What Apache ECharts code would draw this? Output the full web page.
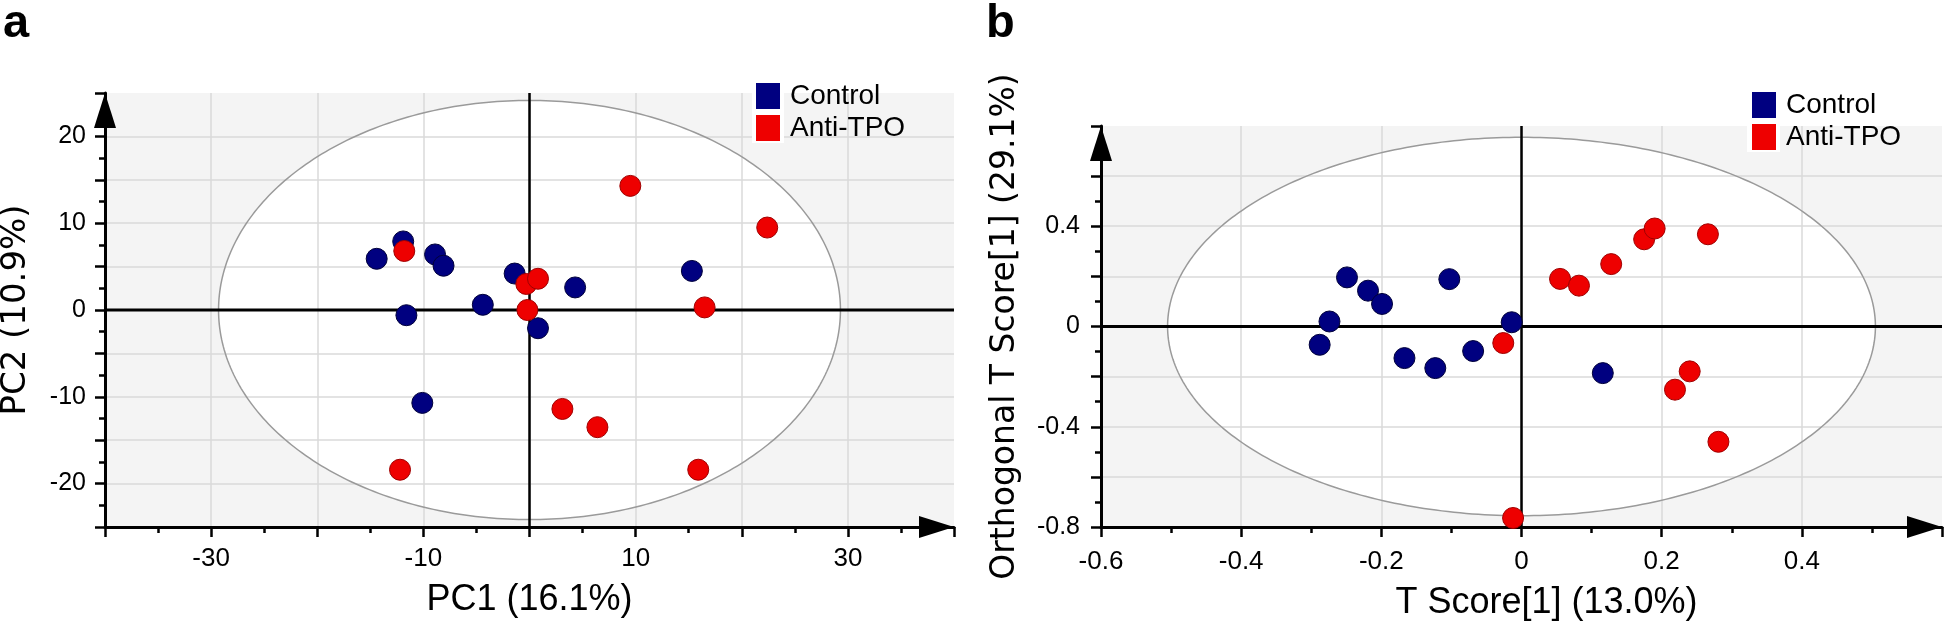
<!DOCTYPE html>
<html><head><meta charset="utf-8">
<script src="https://cdn.jsdelivr.net/npm/echarts@6/dist/echarts.min.js"></script>
<style>html,body{margin:0;padding:0;background:#fff}#c{width:1944px;height:626px}</style>
</head><body><div id="c"></div>
<script>
// ---- Panel a: PCA score plot ----
const groups = ['Control', 'Anti-TPO'];
const pcaControl = [[-14.4,5.9],[-11.9,7.9],[-8.9,6.4],[-8.1,5.1],[-11.6,-0.6],[-4.4,0.6],[-1.4,4.2],[4.3,2.6],[15.3,4.5],[0.8,-2.1],[-10.1,-10.7]];
const pcaAntiTPO = [[-11.8,6.8],[9.5,14.3],[22.4,9.5],[-0.3,3.0],[0.8,3.6],[16.5,0.3],[-0.2,0.0],[3.1,-11.4],[6.4,-13.5],[15.9,-18.4],[-12.2,-18.4]];
const pcaEllipse = [0, 0, 29.3, 24.15];          // centre x, centre y, semi-axis x, semi-axis y
const pcaXLabels = [-30, -10, 10, 30];
const pcaYLabels = [-20, -10, 0, 10, 20];
const pcaXRange = [-40, 40];
const pcaYRange = [-25, 25];

// ---- Panel b: OPLS-DA score plot ----
const oplsControl = [[-0.249,0.196],[-0.219,0.143],[-0.199,0.090],[-0.103,0.189],[-0.274,0.020],[-0.288,-0.073],[-0.167,-0.126],[-0.123,-0.166],[-0.069,-0.098],[-0.014,0.017],[0.116,-0.186]];
const oplsAntiTPO = [[-0.026,-0.066],[0.240,-0.179],[0.219,-0.252],[0.281,-0.460],[-0.012,-0.764],[0.055,0.190],[0.082,0.163],[0.128,0.249],[0.175,0.348],[0.190,0.391],[0.266,0.368]];
const oplsEllipse = [0, 0, 0.505, 0.755];
const oplsXLabels = [-0.6, -0.4, -0.2, 0, 0.2, 0.4];
const oplsYLabels = [-0.8, -0.4, 0, 0.4];
const oplsXRange = [-0.6, 0.6];
const oplsYRange = [-0.8, 0.8];

const SANS = "'Liberation Sans', Arial, sans-serif";
const DEJA = "'DejaVu Sans', Verdana, sans-serif";
const NAVY = '#000080', RED = '#ee0000';

function ellipsePts(api, e, n) {
  const pts = [];
  for (let i = 0; i < n; i++) {
    const t = 2 * Math.PI * i / n;
    pts.push(api.coord([e[0] + e[2] * Math.cos(t), e[1] + e[3] * Math.sin(t)]));
  }
  return pts;
}
function bgRender(xr, yr) {
  return function (params, api) {
    const e = [api.value(0), api.value(1), api.value(2), api.value(3)];
    const tl = api.coord([xr[0], yr[1]]), br = api.coord([xr[1], yr[0]]);
    return { type: 'group', children: [
      { type: 'rect', shape: { x: tl[0], y: tl[1], width: br[0] - tl[0], height: br[1] - tl[1] }, style: { fill: '#f4f4f4' } },
      { type: 'polygon', shape: { points: ellipsePts(api, e, 360) }, style: { fill: '#ffffff' } }
    ]};
  };
}
function fgRender(xr, yr) {
  return function (params, api) {
    const e = [api.value(0), api.value(1), api.value(2), api.value(3)];
    const v0 = api.coord([e[0], yr[0]]), v1 = api.coord([e[0], yr[1]]);
    const h0 = api.coord([xr[0], e[1]]), h1 = api.coord([xr[1], e[1]]);
    return { type: 'group', children: [
      { type: 'polygon', shape: { points: ellipsePts(api, e, 360) }, style: { fill: 'none', stroke: '#9a9a9a', lineWidth: 1.5 } },
      { type: 'line', shape: { x1: v0[0], y1: v0[1], x2: v1[0], y2: v1[1] }, style: { stroke: '#000', lineWidth: 2.5 } },
      { type: 'line', shape: { x1: h0[0], y1: h0[1], x2: h1[0], y2: h1[1] }, style: { stroke: '#000', lineWidth: 3 } }
    ]};
  };
}
function fmtIn(list) {
  return function (v) {
    const hit = list.some(l => Math.abs(l - v) < 1e-9);
    return hit ? String(Math.round(v * 10) / 10) : '';
  };
}
function axisBase(extra) {
  return Object.assign({
    type: 'value',
    z: 3,
    axisLine: { onZero: false, lineStyle: { color: '#000', width: 3 }, symbol: ['none', 'triangle'], symbolSize: [22, 35], symbolOffset: [0, -17.5] },
    axisTick: { show: true, length: 10, lineStyle: { color: '#000', width: 2.5 } },
    minorTick: { show: true, splitNumber: 2, length: 6, lineStyle: { color: '#000', width: 2.5 } },
    splitLine: { show: true, showMinLine: false, showMaxLine: false, lineStyle: { color: '#dadada', width: 1.5 } },
    minorSplitLine: { show: false }
  }, extra);
}

const option = {
  animation: false,
  backgroundColor: '#ffffff',
  title: [
    { text: 'a', left: 3, top: 1, padding: 0, textStyle: { fontSize: 47, fontWeight: 'bold', fontFamily: SANS, color: '#000' } },
    { text: 'b', left: 986, top: 1, padding: 0, textStyle: { fontSize: 47, fontWeight: 'bold', fontFamily: SANS, color: '#000' } }
  ],
  legend: [
    { left: 756, top: 82, orient: 'vertical', padding: 0, itemWidth: 24, itemHeight: 26, itemGap: 4, icon: 'rect', selectedMode: false,
      data: groups, itemStyle: { borderWidth: 0 }, textStyle: { fontSize: 28, fontFamily: SANS, color: '#000', padding: [0, 0, 0, 5] } },
    { left: 1752, top: 91, orient: 'vertical', padding: 0, itemWidth: 24, itemHeight: 26, itemGap: 4, icon: 'rect', selectedMode: false,
      data: groups, itemStyle: { borderWidth: 0 }, textStyle: { fontSize: 28, fontFamily: SANS, color: '#000', padding: [0, 0, 0, 5] } }
  ],
  graphic: [
    { type: 'rect', shape: { x: 752, y: 93, width: 32, height: 50 }, style: { fill: '#fff' }, z: 3.5 },
    { type: 'rect', shape: { x: 1747, y: 126, width: 33, height: 26 }, style: { fill: '#fff' }, z: 3.5 }
  ],
  grid: [
    { left: 105, top: 93, width: 849, height: 434, outerBoundsMode: 'none' },
    { left: 1101, top: 126, width: 841, height: 401, outerBoundsMode: 'none' }
  ],
  xAxis: [
    axisBase({ gridIndex: 0, min: pcaXRange[0], max: pcaXRange[1], interval: 10,
      name: 'PC1 (16.1%)', nameLocation: 'middle', nameGap: 55,
      nameTextStyle: { fontSize: 36, fontFamily: SANS, color: '#000' },
      axisLabel: { formatter: fmtIn(pcaXLabels), margin: 19, fontSize: 26, fontFamily: SANS, color: '#000' } }),
    axisBase({ gridIndex: 1, min: oplsXRange[0], max: oplsXRange[1], interval: 0.2,
      name: 'T Score[1] (13.0%)', nameLocation: 'middle', nameGap: 58,
      nameTextStyle: { fontSize: 36, fontFamily: SANS, color: '#000', padding: [0, 0, 0, 50] },
      axisLabel: { formatter: fmtIn(oplsXLabels), margin: 22, fontSize: 26, fontFamily: SANS, color: '#000' } })
  ],
  yAxis: [
    axisBase({ gridIndex: 0, min: pcaYRange[0], max: pcaYRange[1], interval: 5,
      name: 'PC2 (10.9%)', nameLocation: 'middle', nameGap: 72, nameRotate: 90,
      nameTextStyle: { fontSize: 34, fontFamily: DEJA, color: '#000' },
      axisLabel: { formatter: fmtIn(pcaYLabels), margin: 19, fontSize: 25, fontFamily: SANS, color: '#000' } }),
    axisBase({ gridIndex: 1, min: oplsYRange[0], max: oplsYRange[1], interval: 0.2,
      name: 'Orthogonal T Score[1] (29.1%)', nameLocation: 'middle', nameGap: 79, nameRotate: 90,
      nameTextStyle: { fontSize: 33, fontFamily: DEJA, color: '#000' },
      axisLabel: { formatter: fmtIn(oplsYLabels), margin: 21, fontSize: 25, fontFamily: SANS, color: '#000' } })
  ],
  series: [
    { type: 'custom', name: 'bgA', xAxisIndex: 0, yAxisIndex: 0, z: 1, silent: true, clip: false, renderItem: bgRender(pcaXRange, pcaYRange), data: [pcaEllipse] },
    { type: 'custom', name: 'fgA', xAxisIndex: 0, yAxisIndex: 0, z: 4, silent: true, clip: false, renderItem: fgRender(pcaXRange, pcaYRange), data: [pcaEllipse] },
    { type: 'custom', name: 'bgB', xAxisIndex: 1, yAxisIndex: 1, z: 1, silent: true, clip: false, renderItem: bgRender(oplsXRange, oplsYRange), data: [oplsEllipse] },
    { type: 'custom', name: 'fgB', xAxisIndex: 1, yAxisIndex: 1, z: 4, silent: true, clip: false, renderItem: fgRender(oplsXRange, oplsYRange), data: [oplsEllipse] },
    { type: 'scatter', name: groups[0], xAxisIndex: 0, yAxisIndex: 0, z: 5, symbolSize: 21, data: pcaControl,
      itemStyle: { color: NAVY, borderColor: '#00003a', borderWidth: 1, opacity: 1 } },
    { type: 'scatter', name: groups[1], xAxisIndex: 0, yAxisIndex: 0, z: 5, symbolSize: 21, data: pcaAntiTPO,
      itemStyle: { color: RED, borderColor: '#a00000', borderWidth: 1, opacity: 1 } },
    { type: 'scatter', name: groups[0], xAxisIndex: 1, yAxisIndex: 1, z: 5, symbolSize: 21, data: oplsControl,
      itemStyle: { color: NAVY, borderColor: '#00003a', borderWidth: 1, opacity: 1 } },
    { type: 'scatter', name: groups[1], xAxisIndex: 1, yAxisIndex: 1, z: 5, symbolSize: 21, data: oplsAntiTPO,
      itemStyle: { color: RED, borderColor: '#a00000', borderWidth: 1, opacity: 1 } }
  ]
};
const chart = echarts.init(document.getElementById('c'), null, { renderer: 'canvas', width: 1944, height: 626 });
chart.setOption(option);
</script></body></html>
